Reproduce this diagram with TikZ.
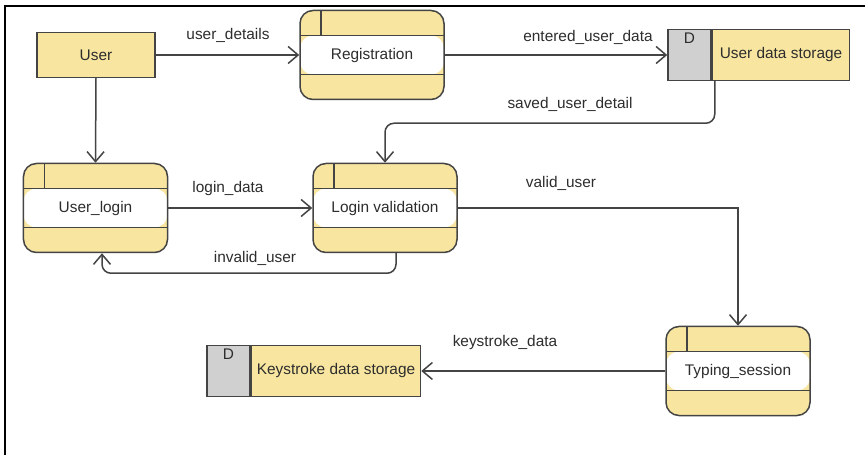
\documentclass[tikz,border=0pt]{standalone}
\usepackage{fontspec}
\setmainfont{Liberation Sans}
\usetikzlibrary{arrows.meta,calc}

\definecolor{dfdyellow}{RGB}{248,230,160}
\definecolor{dfdgray}{RGB}{208,208,208}
\definecolor{dfdline}{RGB}{68,68,68}
\definecolor{dfdtext}{RGB}{45,45,45}

\tikzset{
  every node/.style={font=\fontsize{15.4bp}{18bp}\selectfont, text=dfdtext},
  entity/.style={draw=dfdline, line width=1.5bp, fill=dfdyellow,
    minimum width=118bp, minimum height=45bp, inner sep=0pt},
  process/.style={draw=dfdline, line width=1.5bp, fill=dfdyellow,
    rounded corners=13bp, minimum width=144bp, minimum height=89bp, inner sep=0pt,
    text height=11bp, text depth=2bp,
    path picture={
      \fill[white] ([yshift=-25bp]path picture bounding box.north west)
        rectangle ([yshift=25bp]path picture bounding box.south east);
      \draw[dfdline, line width=1.5bp]
        ([yshift=-25bp]path picture bounding box.north west)
        -- ([yshift=-25bp]path picture bounding box.north east);
      \draw[dfdline, line width=1.5bp]
        ([yshift=25bp]path picture bounding box.south west)
        -- ([yshift=25bp]path picture bounding box.south east);
      \draw[dfdline, line width=1.5bp]
        ([xshift=21bp]path picture bounding box.north west)
        -- ([xshift=21bp,yshift=-25bp]path picture bounding box.north west);
    }},
  storeid/.style={draw=dfdline, line width=1.5bp, fill=dfdgray,
    minimum width=43bp, minimum height=51bp, inner sep=0pt},
  storename/.style={draw=dfdline, line width=1.5bp, fill=dfdyellow,
    minimum height=51bp, inner sep=0pt},
  flow/.style={draw=dfdline, line width=1.5bp,
    -{Straight Barb[length=10bp,width=17bp,line width=1.5bp]}},
  flowlabel/.style={inner sep=1bp},
}

\begin{document}
\begin{tikzpicture}[x=1bp, y=-1bp]
  \useasboundingbox (0,0) rectangle (865,455);
  \fill[white] (0,0) rectangle (865,455);

  % frame edges
  \draw[black, line width=2.6bp] (5,455) -- (5,6) -- (865,6);

  % external entity
  \node[entity] (user) at (96,55) {User};

  % processes
  \node[process] (reg)  at (372,55) {Registration};
  \node[process] (ulog) at (95.5,208) {User\_login};
  \node[process] (lval) at (385,208) {Login validation};
  \node[process] (typ)  at (738,371) {Typing\_session};

  % data stores
  \node[storeid] (udsid) at (689.5,55) {};
  \node[anchor=north, inner sep=0pt] (udsd) at ([yshift=-4bp]udsid.north) {D};
  \node[storename, minimum width=137bp, anchor=west] (uds) at (udsid.east) {User data storage};

  \node[storeid] (kdsid) at (228.5,371) {};
  \node[anchor=north, inner sep=0pt] (kdsd) at ([yshift=-4bp]kdsid.north) {D};
  \node[storename, minimum width=169bp, anchor=west] (kds) at (kdsid.east) {Keystroke data storage};

  % data flows
  \draw[flow] (user.east) -- (reg.west);
  \draw[flow] (reg.east) -- (udsid.west);
  \draw[flow, rounded corners=9bp] ([xshift=3bp]uds.south west) -- ++(0,42) -| (lval.north);
  \draw[flow] (user.south) -- (ulog.north);
  \draw[flow] (ulog.east) -- (lval.west);
  \draw[flow, rounded corners=9bp] ([xshift=11bp]lval.south) -- ++(0,20) -| ([xshift=6.5bp]ulog.south);
  \draw[flow] (lval.east) -| (typ.north);
  \draw[flow] (typ.west) -- (kds.east);

  % flow labels
  \node[flowlabel] (l1) at (228,35) {user\_details};
  \node[flowlabel] (l2) at (588,37) {entered\_user\_data};
  \node[flowlabel] (l3) at (570,104) {saved\_user\_detail};
  \node[flowlabel] (l4) at (228,189) {login\_data};
  \node[flowlabel] (l5) at (255,258) {invalid\_user};
  \node[flowlabel] (l6) at (561,183) {valid\_user};
  \node[flowlabel] (l7) at (505,343) {keystroke\_data};
\end{tikzpicture}
\end{document}
